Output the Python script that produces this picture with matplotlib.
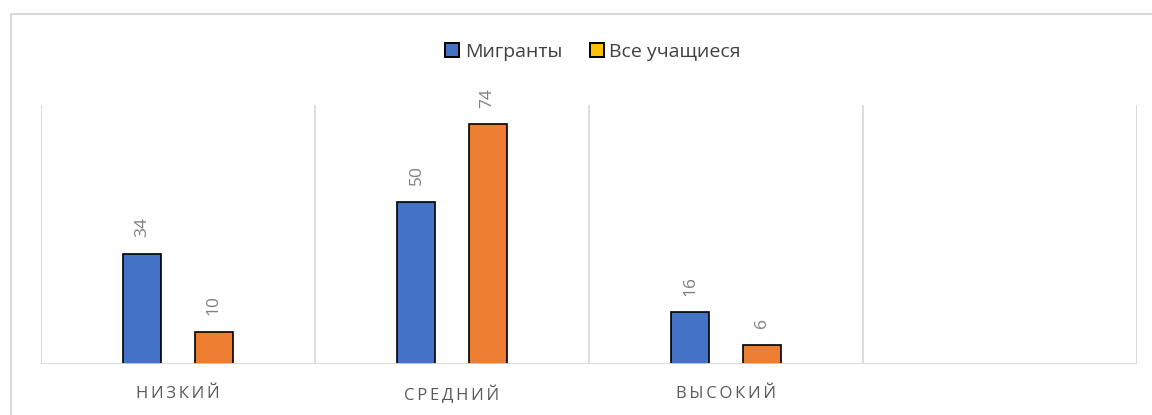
import numpy as np
import matplotlib
matplotlib.use("Agg")
import matplotlib.pyplot as plt
from matplotlib.patches import Rectangle, Patch

plt.rcParams['font.family'] = ['Open Sans', 'DejaVu Sans']

categories = ["НИЗКИЙ", "СРЕДНИЙ", "ВЫСОКИЙ", ""]
migrants = [34, 50, 16, None]
all_students = [10, 74, 6, None]
series_names = ["Мигранты", "Все учащиеся"]

blue = "#4472C4"
orange = "#ED7D31"
legend_orange = "#FFC000"
grid = "#D9D9D9"

fig = plt.figure(figsize=(11.52, 4.15), dpi=100)
ax = fig.add_axes([41 / 1152, 1 - 364 / 415, (1137 - 41) / 1152, (364 - 105) / 415])

x = np.arange(len(categories))
off = 0.13
w = 0.139
for vals, dx, col in [(migrants, -off, blue), (all_students, off, orange)]:
    xs = [xi + dx for xi, v in zip(x, vals) if v is not None]
    vs = [v for v in vals if v is not None]
    bars = ax.bar(xs, vs, width=w, color=col, edgecolor="black", linewidth=1.2, zorder=3)
    for b, v in zip(bars, vs):
        ax.annotate(str(v), (b.get_x() + b.get_width() / 2, v), xytext=(0, 12),
                    textcoords="offset points", rotation=90, ha="center", va="bottom",
                    color="#7F7F7F", fontsize=12.5)

ax.set_xlim(-0.5, len(categories) - 0.5)
ax.set_ylim(0, 80)
for b in np.arange(-0.5, len(categories), 1.0):
    ax.axvline(b, color=grid, linewidth=1.3, zorder=1)
for s in ax.spines.values():
    s.set_visible(False)
ax.axhline(0, color=grid, linewidth=1.3, zorder=4)
ax.set_yticks([])
ax.set_xticks(x)
ax.set_xticklabels(["\u2009".join(c) for c in categories], color="#595959", fontsize=12)
ax.tick_params(axis="x", length=0, pad=16)

handles = [Patch(facecolor=blue, edgecolor="black", linewidth=1.4),
           Patch(facecolor=legend_orange, edgecolor="black", linewidth=1.4)]
leg = fig.legend(handles, series_names, loc="center", bbox_to_anchor=(593 / 1152, 1 - 52 / 415),
                 ncol=2, frameon=False, fontsize=14, handlelength=0.72, handleheight=0.72,
                 handletextpad=0.3, columnspacing=1.4)
for t in leg.get_texts():
    t.set_color("#404040")

frame = Rectangle((10.5 / 1152, -0.2), 1.2, (1 - 14.5 / 415) + 0.2, transform=fig.transFigure,
                  fill=False, edgecolor=grid, linewidth=1.5)
fig.patches.append(frame)

fig.savefig("out.png", dpi=100)
